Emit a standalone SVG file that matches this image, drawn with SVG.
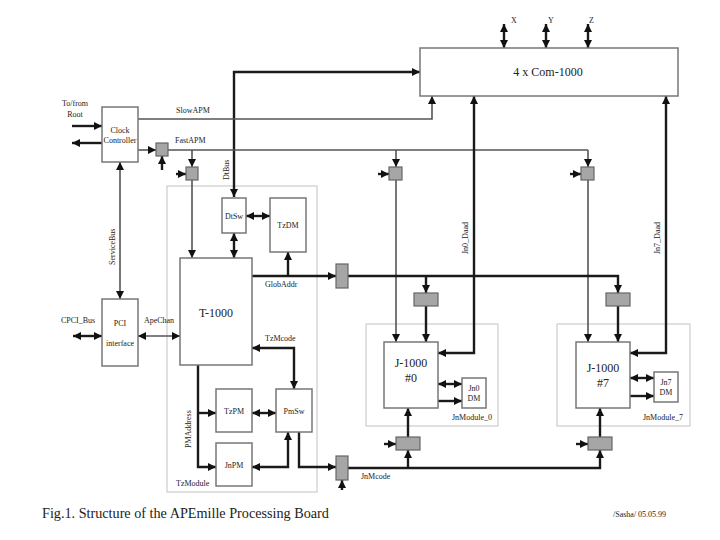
<svg xmlns="http://www.w3.org/2000/svg" width="720" height="540" viewBox="0 0 720 540" font-family="'Liberation Serif', 'Times New Roman', serif">
<style>
text{font-family:"Liberation Serif","Times New Roman",serif;fill:#222;}
.s{font-size:8px;}
.m{font-size:12px;}
.box{fill:#fff;stroke:#777;stroke-width:1.5;}
.mod{fill:none;stroke:#ccc;stroke-width:1.2;}
.g{fill:#a6a6a6;stroke:#666;stroke-width:1.2;}
.tk{fill:none;stroke:#1a1a1a;stroke-width:2.4;}
.md{fill:none;stroke:#555;stroke-width:1.6;}
.e{marker-end:url(#a);}
.b{marker-end:url(#a);marker-start:url(#a);}
</style>
<defs>
<marker id="a" viewBox="0 0 8 8" refX="8" refY="4" markerWidth="8" markerHeight="8" orient="auto-start-reverse" markerUnits="userSpaceOnUse"><path d="M0,0 L8,4 L0,8 z" fill="#111"/></marker>
</defs>
<rect width="720" height="540" fill="#fff"/>

<g id="modules">
<g id="TzModule"><rect class="mod" x="167" y="186" width="150" height="306"/><text class="s" x="176" y="486">TzModule</text></g>
<g id="JnModule_0"><rect class="mod" x="366" y="324" width="132" height="102"/><text class="s" x="452" y="420">JnModule_0</text></g>
<g id="JnModule_7"><rect class="mod" x="557" y="324" width="133" height="102"/><text class="s" x="643" y="420">JnModule_7</text></g>
</g>

<g id="connectors">
<path class="tk b" d="M234,197 L234,72 L420,72"/>
<path class="tk b" d="M504,24 L504,48"/>
<path class="tk b" d="M546,24 L546,48"/>
<path class="tk b" d="M588,24 L588,48"/>
<path class="md e" d="M138,119 L432,119 L432,96"/>
<path class="tk e" d="M72,126 L102,126"/>
<path class="tk e" d="M102,143 L72,143"/>
<path class="md e" d="M138,150 L156,150"/>
<path class="md" d="M168,150 L588,150"/>
<path class="md e" d="M192,150 L192,167"/>
<path class="md e" d="M396,150 L396,167"/>
<path class="md e" d="M588,150 L588,167"/>
<path class="tk e" d="M162,170 L162,156"/>
<path class="tk e" d="M176,174 L186,174"/>
<path class="tk e" d="M378,174 L389,174"/>
<path class="tk e" d="M570,174 L581,174"/>
<path class="md e" d="M192,180 L192,258"/>
<path class="md e" d="M396,180 L396,342"/>
<path class="md e" d="M588,180 L588,342"/>
<path class="md b" d="M120,299 L120,162"/>
<path class="tk b" d="M73,336 L102,336"/>
<path class="md b" d="M138,336 L180,336"/>
<path class="tk b" d="M246,216 L270,216"/>
<path class="tk b" d="M234,233 L234,258"/>
<path class="tk e" d="M252,276 L336,276"/>
<path class="tk e" d="M288,276 L288,252"/>
<path class="tk e" d="M348,276 L618,276 L618,293"/>
<path class="tk e" d="M426,276 L426,293"/>
<path class="tk e" d="M426,306 L426,342"/>
<path class="tk e" d="M618,306 L618,342"/>
<path class="tk b" d="M474,96 L474,353 L438,353"/>
<path class="tk b" d="M666,96 L666,353 L630,353"/>
<path class="tk b" d="M252,348 L294,348 L294,389"/>
<path class="tk e" d="M198,365 L198,467 L216,467"/>
<path class="tk e" d="M198,413 L216,413"/>
<path class="tk b" d="M252,413 L276,413"/>
<path class="tk b" d="M252,467 L288,467 L288,432"/>
<path class="tk e" d="M299,432 L299,467 L336,467"/>
<path class="tk e" d="M342,490 L342,480"/>
<path class="tk e" d="M348,468 L600,468 L600,450"/>
<path class="tk e" d="M408,468 L408,450"/>
<path class="tk e" d="M408,437 L408,408"/>
<path class="tk e" d="M600,437 L600,408"/>
<path class="tk e" d="M384,444 L396,444"/>
<path class="tk e" d="M576,444 L588,444"/>
<path class="tk b" d="M438,384 L462,384"/>
<path class="tk e" d="M438,401 L462,401"/>
<path class="tk b" d="M630,378 L654,378"/>
<path class="tk e" d="M630,396 L654,396"/>
</g>

<g id="labels">
<text class="s" x="511" y="23">X</text>
<text class="s" x="548" y="23">Y</text>
<text class="s" x="589" y="23">Z</text>
<text class="s" x="75" y="106" text-anchor="middle">To/from</text>
<text class="s" x="75" y="117" text-anchor="middle">Root</text>
<text class="s" x="176" y="113">SlowAPM</text>
<text class="s" x="175" y="143">FastAPM</text>
<text class="s" transform="translate(229,180) rotate(-90)">DtBus</text>
<text class="s" transform="translate(115,265) rotate(-90)">ServiceBus</text>
<text class="s" x="78" y="323" text-anchor="middle">CPCI_Bus</text>
<text class="s" x="159" y="323" text-anchor="middle">ApeChan</text>
<text class="s" x="265" y="287">GlobAddr</text>
<text class="s" x="265" y="341">TzMcode</text>
<text class="s" transform="translate(191,448) rotate(-90)">PMAddress</text>
<text class="s" x="361" y="479">JnMcode</text>
<text class="s" transform="translate(468,254) rotate(-90)">Jn0_Daad</text>
<text class="s" transform="translate(660,254) rotate(-90)">Jn7_Daad</text>
</g>

<g id="Com1000"><rect class="box" x="420" y="48" width="258" height="48"/><text class="m" x="548" y="76" text-anchor="middle">4 x Com-1000</text></g>
<g id="ClockController"><rect class="box" x="102" y="107" width="36" height="55"/><text class="s" x="120" y="133" text-anchor="middle">Clock</text><text class="s" x="120" y="143" text-anchor="middle">Controller</text></g>
<g id="PCI"><rect class="box" x="102" y="299" width="36" height="67"/><text class="s" x="120" y="326" text-anchor="middle">PCI</text><text class="s" x="120" y="346" text-anchor="middle">interface</text></g>
<g id="DtSw"><rect class="box" x="222" y="198" width="24" height="35"/><text class="s" x="234" y="219" text-anchor="middle">DtSw</text></g>
<g id="TzDM"><rect class="box" x="270" y="198" width="36" height="54"/><text class="s" x="288" y="228" text-anchor="middle">TzDM</text></g>
<g id="T1000"><rect class="box" x="180" y="258" width="72" height="107"/><text x="216" y="317" font-size="12" text-anchor="middle">T-1000</text></g>
<g id="TzPM"><rect class="box" x="216" y="389" width="36" height="43"/><text class="s" x="234" y="414" text-anchor="middle">TzPM</text></g>
<g id="PmSw"><rect class="box" x="276" y="389" width="36" height="43"/><text class="s" x="294" y="414" text-anchor="middle">PmSw</text></g>
<g id="JnPM"><rect class="box" x="216" y="443" width="36" height="43"/><text class="s" x="234" y="468" text-anchor="middle">JnPM</text></g>
<g id="J1000_0"><rect class="box" x="384" y="342" width="54" height="66"/><text class="m" x="411" y="367" text-anchor="middle">J-1000</text><text class="m" x="411" y="382" text-anchor="middle">#0</text></g>
<g id="Jn0DM"><rect class="box" x="462" y="378" width="24" height="30"/><text class="s" x="474" y="391" text-anchor="middle">Jn0</text><text class="s" x="474" y="401" text-anchor="middle">DM</text></g>
<g id="J1000_7"><rect class="box" x="576" y="342" width="54" height="66"/><text class="m" x="603" y="372" text-anchor="middle">J-1000</text><text class="m" x="603" y="387" text-anchor="middle">#7</text></g>
<g id="Jn7DM"><rect class="box" x="654" y="372" width="24" height="30"/><text class="s" x="666" y="385" text-anchor="middle">Jn7</text><text class="s" x="666" y="395" text-anchor="middle">DM</text></g>

<g id="switches">
<rect class="g" x="156" y="143" width="12" height="13"/>
<rect class="g" x="186" y="167" width="12" height="13"/>
<rect class="g" x="389" y="167" width="13" height="13"/>
<rect class="g" x="581" y="167" width="13" height="13"/>
<rect class="g" x="336" y="264" width="12" height="24"/>
<rect class="g" x="414" y="293" width="24" height="13"/>
<rect class="g" x="606" y="293" width="24" height="13"/>
<rect class="g" x="336" y="456" width="12" height="24"/>
<rect class="g" x="396" y="437" width="24" height="13"/>
<rect class="g" x="588" y="437" width="24" height="13"/>
</g>

<g id="caption">
<text x="42" y="518" font-size="14.2">Fig.1.  Structure of the APEmille Processing Board</text>
<text x="613" y="517" font-size="8">/Sasha/ 05.05.99</text>
</g>
</svg>
